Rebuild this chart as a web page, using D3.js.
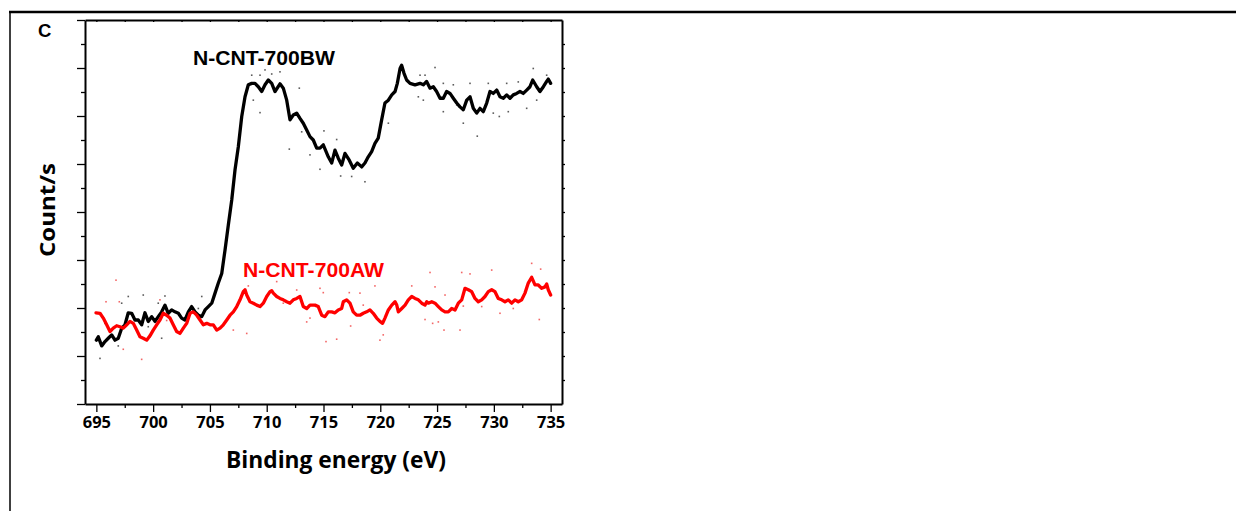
<!DOCTYPE html>
<html><head><meta charset="utf-8">
<script src="https://cdn.jsdelivr.net/npm/d3@7/dist/d3.min.js"></script>
<style>
html,body{margin:0;padding:0;background:#fff;}
svg{display:block;}
</style></head>
<body>
<svg id="chart" width="1236" height="511"></svg>
<script>
// ---- data (binding energy in eV, intensity in arbitrary counts/s units) ----
const xTickValues = [695,700,705,710,715,720,725,730,735];
const panelLabel = "C";
const xTitle = "Binding energy (eV)";
const yTitle = "Count/s";
const seriesNames = ["N-CNT-700BW","N-CNT-700AW"];

const bwEnergy = [695.0,695.17,695.47,695.76,696.05,696.35,696.64,696.93,697.23,697.52,
697.81,698.11,698.40,698.69,698.99,699.28,699.57,699.87,700.16,700.45,
700.75,701.04,701.33,701.63,701.92,702.22,702.51,702.80,703.10,703.39,
703.69,703.98,704.28,704.57,704.86,705.16,705.45,705.74,706.04,706.33,
706.62,706.92,707.21,707.50,707.80,708.09,708.38,708.68,708.97,709.26,
709.56,709.85,710.14,710.44,710.73,711.17,711.46,711.76,712.05,712.34,
712.64,712.93,713.22,713.52,713.81,714.10,714.40,714.69,714.98,715.42,
715.72,716.01,716.30,716.60,716.89,717.27,717.62,717.98,718.36,718.65,
718.94,719.24,719.53,719.82,720.12,720.41,720.71,721.01,721.30,721.50,
721.74,721.88,722.09,722.32,722.62,723.06,723.50,723.79,724.08,724.38,
724.67,724.96,725.26,725.55,725.84,726.14,726.43,726.73,727.02,727.31,
727.61,727.90,728.19,728.49,728.78,729.07,729.37,729.66,729.95,730.25,
730.54,730.83,731.13,731.42,731.71,732.01,732.30,732.59,732.89,733.18,
733.42,733.77,734.06,734.36,734.65,734.79,735.00];
const bwCounts = [1.33,1.40,1.21,1.30,1.37,1.44,1.33,1.37,1.58,1.65,
1.90,1.89,1.75,1.75,1.65,1.90,1.72,1.82,1.72,1.82,
1.92,2.06,1.89,1.96,1.92,1.89,1.79,1.75,1.92,2.03,
1.92,1.85,1.82,1.96,2.03,2.10,2.31,2.52,2.72,3.21,
3.73,4.25,4.88,5.36,5.99,6.40,6.65,6.68,6.68,6.61,
6.51,6.65,6.75,6.68,6.51,6.67,6.58,6.33,5.92,6.02,
6.06,5.95,5.85,5.71,5.57,5.50,5.33,5.33,5.40,5.15,
5.02,5.29,5.12,4.98,5.22,5.08,4.91,5.02,4.94,5.02,
5.15,5.26,5.43,5.54,5.92,6.27,6.33,6.44,6.51,6.68,
6.99,7.06,6.89,6.75,6.68,6.65,6.68,6.65,6.72,6.58,
6.61,6.51,6.37,6.37,6.51,6.47,6.37,6.27,6.19,6.13,
6.33,6.40,6.16,6.06,6.16,6.09,6.27,6.51,6.47,6.54,
6.40,6.37,6.44,6.37,6.44,6.47,6.51,6.47,6.54,6.61,
6.75,6.61,6.51,6.61,6.72,6.77,6.68];

const awEnergy = [694.97,695.32,695.61,695.91,696.20,696.49,696.79,697.08,697.37,697.67,
697.96,698.25,698.55,698.84,699.13,699.43,699.72,700.01,700.31,700.60,
700.89,701.19,701.48,701.77,702.07,702.36,702.66,702.95,703.25,703.54,
703.84,704.13,704.42,704.72,705.01,705.30,705.60,705.89,706.18,706.48,
706.77,707.06,707.36,707.65,707.94,708.09,708.24,708.53,708.82,709.12,
709.41,709.70,710.00,710.29,710.44,710.58,710.88,711.17,711.46,711.76,
712.05,712.34,712.64,712.93,713.22,713.52,713.81,714.25,714.54,714.84,
715.13,715.42,715.72,716.01,716.30,716.60,716.74,717.04,717.33,717.62,
717.92,718.21,718.50,718.80,719.09,719.38,719.68,719.97,720.20,720.41,
720.71,721.01,721.30,721.45,721.59,721.89,722.18,722.47,722.77,723.06,
723.35,723.65,723.94,724.09,724.23,724.53,724.82,725.11,725.41,725.70,
725.99,726.29,726.58,726.87,727.17,727.46,727.75,728.05,728.34,728.63,
728.93,729.22,729.51,729.81,730.10,730.39,730.69,730.98,731.27,731.57,
731.86,732.15,732.45,732.74,733.03,733.33,733.62,733.91,734.21,734.50,
734.65,734.79,735.00];
const awCounts = [1.90,1.89,1.79,1.65,1.51,1.58,1.63,1.61,1.58,1.65,
1.72,1.68,1.54,1.40,1.37,1.33,1.42,1.54,1.65,1.75,
1.89,1.85,1.79,1.65,1.51,1.47,1.58,1.68,1.89,1.92,
1.85,1.75,1.65,1.68,1.65,1.65,1.54,1.58,1.65,1.75,
1.85,1.92,2.03,2.17,2.34,2.38,2.27,2.13,2.10,2.06,
2.03,2.10,2.24,2.34,2.36,2.31,2.24,2.20,2.17,2.13,
2.10,2.17,2.20,2.24,2.03,1.99,2.06,2.06,2.03,1.85,
1.82,1.92,1.92,1.90,1.96,1.99,2.13,2.17,2.10,1.92,
1.85,1.85,1.89,1.92,1.96,1.89,1.79,1.72,1.68,1.79,
1.96,2.06,2.13,2.06,1.92,1.99,2.06,2.17,2.24,2.20,
2.17,2.10,2.06,2.13,2.10,2.13,2.10,2.03,1.96,1.92,
1.92,1.99,1.96,2.10,2.17,2.41,2.38,2.34,2.20,2.13,
2.17,2.24,2.34,2.38,2.34,2.20,2.17,2.13,2.17,2.10,
2.17,2.13,2.17,2.31,2.52,2.64,2.48,2.48,2.41,2.44,
2.50,2.38,2.27];

// raw (unsmoothed) data points scattered around the curves
const bwDotE = [708.68,709.41,709.85,710.44,711.17,708.82,709.41,712.87,711.99,713.81,714.69,715.04,713.08,
716.16,716.51,717.48,718.65,720.71,724.82,723.50,723.94,725.55,726.43,727.90,727.31,728.54,730.48,731.27,
732.15,733.47,734.65,733.77,732.89,729.51,731.13,723.35,723.79,725.55,726.73,729.95,
697.81,699.13,701.04,700.45,695.32,696.93,699.57,699.72,700.75,702.80,703.98,704.28,695.76,697.23];
const bwDotC = [6.85,6.85,6.96,6.875,6.92,6.33,6.07,6.58,5.31,5.19,4.89,5.69,5.67,
5.51,4.75,4.74,4.63,5.85,7.01,6.85,6.85,6.68,6.65,6.68,5.85,5.58,5.99,6.09,
6.71,6.99,6.85,6.33,6.16,6.68,6.68,6.40,6.33,6.09,6.23,6.06,
2.24,2.27,2.25,2.10,0.95,1.21,1.61,1.40,1.37,1.65,1.99,2.24,1.68,2.10];
const awDotE = [695.85,696.73,697.02,697.37,698.99,700.60,701.19,708.38,710.88,711.46,712.64,713.81,714.69,
708.24,707.06,714.98,715.22,716.16,717.27,717.39,718.21,718.50,719.53,719.97,720.26,722.77,723.94,724.38,
724.82,724.61,725.11,725.61,725.70,727.02,727.17,727.90,729.81,730.54,731.71,733.33,734.00,734.12,
727.31,728.93,713.52];
const awDotC = [2.13,2.58,2.13,1.14,0.93,2.17,1.74,2.46,2.55,2.10,2.375,1.79,2.41,
1.47,1.54,2.32,1.30,1.35,2.32,1.625,2.31,2.06,2.46,1.33,1.44,2.46,1.76,2.74,
2.44,1.68,1.71,1.54,2.27,1.54,2.74,2.71,2.79,1.89,1.99,2.93,1.76,2.81,
2.04,2.03,1.71];

// ---- layout ----
const svg = d3.select("#chart");
const L = 85, R = 562, T = 20, B = 404;
const x = d3.scaleLinear().domain([694, 736]).range([L, R]);
const y = d3.scaleLinear().domain([0, 8]).range([B, T]);

// outer frame (figure panel border)
svg.append("line").attr("x1", 9).attr("x2", 1236).attr("y1", 12).attr("y2", 12)
  .attr("stroke", "#000").attr("stroke-width", 2.5);
svg.append("line").attr("x1", 10).attr("x2", 10).attr("y1", 11).attr("y2", 511)
  .attr("stroke", "#000").attr("stroke-width", 1.5);

const minorX = d3.range(697.5, 735, 5);
const majorY = d3.range(0, 9, 1);
const minorY = d3.range(0.5, 8, 1);
const allY = d3.range(0.5, 8, 0.5);

function styleAxis(g) {
  g.selectAll("path.domain").attr("stroke", "#000").attr("stroke-width", 2);
  g.selectAll(".tick line").attr("stroke", "#000").attr("stroke-width", 1.3);
}

// bottom axis major (with labels)
const gxb = svg.append("g").attr("transform", `translate(0,${B})`)
  .call(d3.axisBottom(x).tickValues(xTickValues).tickSize(8).tickSizeOuter(0).tickPadding(4).tickFormat(d3.format("d")));
styleAxis(gxb);
gxb.selectAll(".tick text")
  .attr("font-family", "'Open Sans', sans-serif").attr("font-weight", "bold")
  .attr("font-size", "16.5px").attr("fill", "#000");
// bottom minor
const gxbm = svg.append("g").attr("transform", `translate(0,${B})`)
  .call(d3.axisBottom(x).tickValues(minorX).tickSize(4).tickSizeOuter(0).tickFormat(""));
styleAxis(gxbm); gxbm.select("path.domain").remove();

// top axis (inward small ticks)
const gxt = svg.append("g").attr("transform", `translate(0,${T})`)
  .call(d3.axisBottom(x).tickValues(xTickValues.concat(minorX)).tickSize(2).tickSizeOuter(0).tickFormat(""));
styleAxis(gxt);

// left axis
const gyl = svg.append("g").attr("transform", `translate(${L},0)`)
  .call(d3.axisLeft(y).tickValues(majorY).tickSize(8).tickSizeOuter(0).tickFormat(""));
styleAxis(gyl);
const gylm = svg.append("g").attr("transform", `translate(${L},0)`)
  .call(d3.axisLeft(y).tickValues(minorY).tickSize(4).tickSizeOuter(0).tickFormat(""));
styleAxis(gylm); gylm.select("path.domain").remove();

// right axis
const gyr = svg.append("g").attr("transform", `translate(${R},0)`)
  .call(d3.axisRight(y).tickValues(allY).tickSize(3).tickSizeOuter(0).tickFormat(""));
styleAxis(gyr);

// scatter dots
const bwDots = bwDotE.map((e, i) => [e, bwDotC[i]]);
const awDots = awDotE.map((e, i) => [e, awDotC[i]]);
svg.append("g").selectAll("rect").data(awDots).join("rect")
  .attr("x", d => x(d[0]) - 0.8).attr("y", d => y(d[1]) - 0.8)
  .attr("width", 1.6).attr("height", 1.6).attr("fill", "#f04040").attr("opacity", 0.8);
svg.append("g").selectAll("rect").data(bwDots).join("rect")
  .attr("x", d => x(d[0]) - 0.8).attr("y", d => y(d[1]) - 0.8)
  .attr("width", 1.6).attr("height", 1.6).attr("fill", "#333").attr("opacity", 0.8);

// lines
const line = d3.line().x(d => x(d[0])).y(d => y(d[1]));
const bwData = bwEnergy.map((e, i) => [e, bwCounts[i]]);
const awData = awEnergy.map((e, i) => [e, awCounts[i]]);
svg.append("path").datum(bwData).attr("d", line)
  .attr("fill", "none").attr("stroke", "#000").attr("stroke-width", 3.3)
  .attr("stroke-linejoin", "round").attr("stroke-linecap", "round");
svg.append("path").datum(awData).attr("d", line)
  .attr("fill", "none").attr("stroke", "#ff0000").attr("stroke-width", 3.3)
  .attr("stroke-linejoin", "round").attr("stroke-linecap", "round");

// series labels
svg.append("text").attr("x", 193).attr("y", 65).text(seriesNames[0])
  .attr("font-family", "'Liberation Sans', Arial, sans-serif").attr("font-weight", "bold")
  .attr("font-size", "20.5px").attr("fill", "#000")
  .attr("textLength", 142).attr("lengthAdjust", "spacingAndGlyphs");
svg.append("text").attr("x", 243).attr("y", 277).text(seriesNames[1])
  .attr("font-family", "'Liberation Sans', Arial, sans-serif").attr("font-weight", "bold")
  .attr("font-size", "20.5px").attr("fill", "#ff0000")
  .attr("textLength", 141).attr("lengthAdjust", "spacingAndGlyphs");

// panel label
svg.append("text").attr("x", 38).attr("y", 37).text(panelLabel)
  .attr("font-family", "'Liberation Sans', Arial, sans-serif").attr("font-weight", "bold")
  .attr("font-size", "18.5px").attr("fill", "#000");

// axis titles
svg.append("text").attr("x", 336).attr("y", 468).attr("text-anchor", "middle").text(xTitle)
  .attr("font-family", "'Open Sans', sans-serif").attr("font-weight", "bold")
  .attr("font-size", "23px").attr("fill", "#000")
  .attr("textLength", 220).attr("lengthAdjust", "spacingAndGlyphs");
svg.append("text").attr("transform", "translate(55,210) rotate(-90)")
  .attr("text-anchor", "middle").text(yTitle)
  .attr("font-family", "'Open Sans', sans-serif").attr("font-weight", "bold")
  .attr("font-size", "22px").attr("fill", "#000")
  .attr("textLength", 94).attr("lengthAdjust", "spacingAndGlyphs");
</script>
</body></html>
